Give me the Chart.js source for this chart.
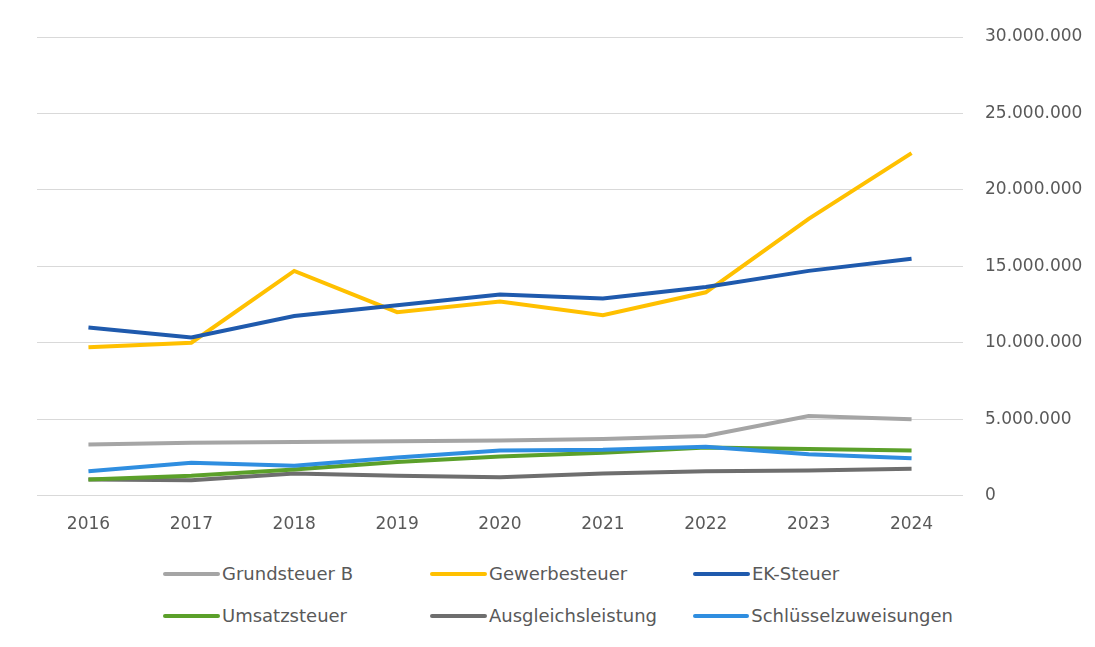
<!DOCTYPE html>
<html>
<head>
<meta charset="utf-8">
<script src="https://cdn.jsdelivr.net/npm/chart.js@4/dist/chart.umd.min.js"></script>
<style>
    html, body { margin: 0; padding: 0; background: #fff; }
    #wrap { position: absolute; left: 0; top: 0; width: 1095px; height: 550px; }
    #legend {
        position: absolute; left: 163px; top: 562px;
        display: grid; grid-template-columns: 267px 263px 260px; row-gap: 19px;
        font-family: "DejaVu Sans", sans-serif; font-size: 18px; color: #595959;
    }
    .item { display: flex; align-items: center; height: 23px; white-space: nowrap; }
    .mark { width: 57px; height: 4px; border-radius: 2px; margin-right: 2px; }
</style>
</head>
<body>
<div id="wrap"><canvas id="taxChart"></canvas></div>
<div id="legend"></div>
<script>
(function() {
    "use strict";

    const years = ['2016','2017','2018','2019','2020','2021','2022','2023','2024'];
    const names = ['Grundsteuer B','Gewerbesteuer','EK-Steuer','Umsatzsteuer','Ausgleichsleistung','Schlüsselzuweisungen'];
    const colors = ['#a5a5a5','#ffc000','#1f5aad','#5ba02a','#6e6e6e','#2f8ee0'];

    const grundsteuer   = [3350000, 3450000, 3500000, 3550000, 3600000, 3700000, 3900000, 5200000, 5000000];
    const gewerbe       = [9700000, 10000000, 14700000, 12000000, 12700000, 11800000, 13300000, 18100000, 22400000];
    const ekSteuer      = [11000000, 10350000, 11750000, 12450000, 13150000, 12900000, 13650000, 14700000, 15500000];
    const umsatz        = [1050000, 1300000, 1700000, 2200000, 2550000, 2800000, 3150000, 3050000, 2950000];
    const ausgleich     = [1050000, 1000000, 1450000, 1300000, 1200000, 1450000, 1600000, 1650000, 1750000];
    const schluessel    = [1600000, 2150000, 1950000, 2500000, 2950000, 3000000, 3200000, 2700000, 2450000];
    const seriesData = [grundsteuer, gewerbe, ekSteuer, umsatz, ausgleich, schluessel];
    const drawOrder = [5, 2, 1, 4, 6, 3];

    const fmt = v => v === 0 ? '0' : v.toLocaleString('de-DE');

    document.addEventListener("DOMContentLoaded", () => {
        const c = document.getElementById('taxChart');
        new Chart(c, {
            type: 'line',
            data: {
                labels: years,
                datasets: names.map((n, i) => ({
                    label: n,
                    data: seriesData[i],
                    borderColor: colors[i],
                    backgroundColor: colors[i],
                    borderWidth: 4,
                    pointRadius: 0,
                    tension: 0,
                    order: drawOrder[i]
                }))
            },
            options: {
                responsive: true,
                maintainAspectRatio: false,
                animation: false,
                layout: { padding: { left: 37, right: 12, top: 37, bottom: 4 } },
                plugins: {
                    legend: { display: false },
                    tooltip: { enabled: false }
                },
                scales: {
                    x: {
                        offset: true,
                        grid: { display: false },
                        border: { display: false },
                        ticks: { color: '#595959', padding: 11, font: { family: 'DejaVu Sans', size: 17 } }
                    },
                    y: {
                        position: 'right',
                        min: 0,
                        max: 30000000,
                        border: { display: false },
                        grid: { color: '#d9d9d9', drawTicks: false },
                        afterFit: s => { s.width = 120; },
                        ticks: {
                            stepSize: 5000000,
                            padding: 22,
                            color: '#595959',
                            font: { family: 'DejaVu Sans', size: 17 },
                            callback: v => fmt(v)
                        }
                    }
                }
            }
        });

        const lg = document.getElementById('legend');
        names.forEach((n, i) => {
            const it = document.createElement('div');
            it.className = 'item';
            it.innerHTML = '<span class="mark" style="background:' + colors[i] + '"></span><span>' + n + '</span>';
            lg.appendChild(it);
        });
    });
})();
</script>
</body>
</html>
